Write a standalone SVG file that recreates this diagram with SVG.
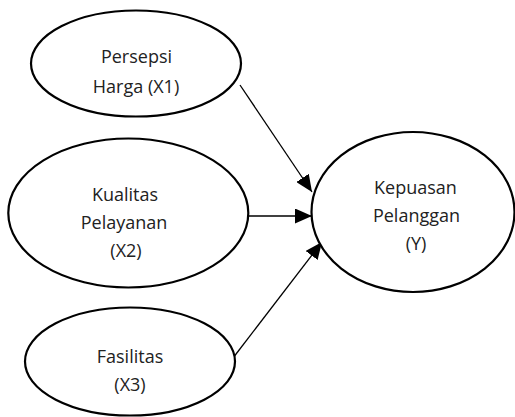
<svg xmlns="http://www.w3.org/2000/svg" width="515" height="417" viewBox="0 0 515 417">
<style>
.node ellipse{fill:#fff;stroke:#000;stroke-width:2.2}
.node text{font-family:"Open Sans","Noto Sans",sans-serif;font-size:18px;fill:#222;text-anchor:middle}
.edges line{stroke:#000;stroke-width:1.3;marker-end:url(#ah)}
</style>
<defs>
<marker id="ah" markerUnits="userSpaceOnUse" markerWidth="17" markerHeight="15" refX="17" refY="7.5" orient="auto" viewBox="0 0 17 15">
<path d="M0,0 L17,7.5 L0,15 Z" fill="#000"/>
</marker>
</defs>
<rect width="515" height="417" fill="#fff"/>
<g id="edges" class="edges">
<line x1="240" y1="85" x2="312" y2="192"/>
<line x1="248" y1="216" x2="312" y2="216"/>
<line x1="233" y1="358" x2="322" y2="242"/>
</g>
<g id="x1" class="node">
<ellipse cx="136" cy="63.5" rx="105" ry="53"/>
<text x="136.5" y="62.5">Persepsi</text>
<text x="136" y="92.5">Harga (X1)</text>
</g>
<g id="x2" class="node">
<ellipse cx="128.3" cy="213" rx="120" ry="74.5"/>
<text x="125" y="200.5">Kualitas</text>
<text x="124" y="228.5">Pelayanan</text>
<text x="126" y="256.5">(X2)</text>
</g>
<g id="x3" class="node">
<ellipse cx="130" cy="361.5" rx="105" ry="54"/>
<text x="130" y="362.5">Fasilitas</text>
<text x="130" y="390.5">(X3)</text>
</g>
<g id="y" class="node">
<ellipse cx="413" cy="212" rx="101.5" ry="80"/>
<text x="415.5" y="193.5">Kepuasan</text>
<text x="416.5" y="221.5">Pelanggan</text>
<text x="416" y="249.5">(Y)</text>
</g>
</svg>
